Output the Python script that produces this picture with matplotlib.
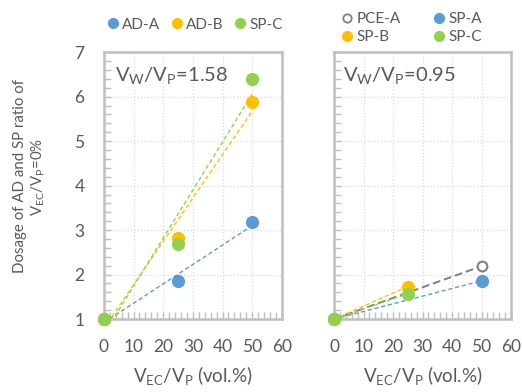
import matplotlib.pyplot as plt
from matplotlib.lines import Line2D
from matplotlib.ticker import MultipleLocator
import numpy as np

plt.rcParams['font.family'] = ['Lato', 'DejaVu Sans']
plt.rcParams['mathtext.default'] = 'regular'

TXT = '#595959'
EDGE = '#BFBFBF'
BLUE = '#5B9BD5'
ORANGE = '#FFC000'
GREEN = '#92D050'
GREY = '#7F7F7F'

# Vw/Vp = 1.58
ec_left = [0, 25, 50]
ad_a = [1.0, 1.85, 3.18]
ad_b = [1.0, 2.82, 5.88]
sp_c_left = [1.0, 2.68, 6.40]

# Vw/Vp = 0.95
ec_pce_a = [0, 50]
pce_a = [1.0, 2.19]
ec_sp_a = [0, 50]
sp_a = [1.0, 1.86]
ec_sp_b = [0, 25]
sp_b = [1.0, 1.73]
ec_sp_c = [0, 25]
sp_c_right = [1.0, 1.57]


def trend(ax, xs, ys, color, lw=1.0, dashes=(3, 2)):
    k, b = np.polyfit(xs, ys, 1)
    xx = np.array([min(xs), max(xs)])
    ax.plot(xx, k * xx + b, color=color, lw=lw, dashes=dashes, zorder=2)


def dots(ax, xs, ys, color, hollow=False):
    if hollow:
        ax.plot(xs, ys, 'o', ms=7, mfc='white', mec=color, mew=1.5,
                ls='none', zorder=3, clip_on=False)
    else:
        ax.plot(xs, ys, 'o', ms=8.5, color=color, ls='none', zorder=3,
                clip_on=False)


def style(ax, show_y):
    ax.set_xlim(0, 60)
    ax.set_ylim(1, 7)
    ax.xaxis.set_major_locator(MultipleLocator(10))
    ax.xaxis.set_minor_locator(MultipleLocator(2))
    ax.yaxis.set_major_locator(MultipleLocator(1))
    ax.yaxis.set_minor_locator(MultipleLocator(0.2))
    ax.grid(True, which='major', color='#D9D9D9', ls=':', lw=0.9)
    for s in ax.spines.values():
        s.set_color(EDGE)
        s.set_linewidth(1.8)
    ax.tick_params(which='both', direction='in', color=EDGE, width=1.0,
                   length=5, labelsize=12.5, labelcolor=TXT, pad=14)
    if not show_y:
        ax.tick_params(axis='y', labelleft=False)
    ax.set_xlabel('$V_{EC}/V_{P}$ (vol.%)', fontsize=13.5, color=TXT,
                  labelpad=7)


fig = plt.figure(figsize=(5.22, 3.92), dpi=100)
ax1 = fig.add_axes([0.199, 0.186, 0.341, 0.681])
ax2 = fig.add_axes([0.640, 0.186, 0.339, 0.681])

style(ax1, True)
style(ax2, False)

trend(ax1, ec_left, ad_a, BLUE)
trend(ax1, ec_left, ad_b, ORANGE)
trend(ax1, ec_left, sp_c_left, GREEN)
dots(ax1, ec_left, ad_a, BLUE)
dots(ax1, ec_left, ad_b, ORANGE)
dots(ax1, ec_left, sp_c_left, GREEN)

trend(ax2, ec_pce_a, pce_a, GREY, lw=1.4, dashes=(4, 2))
trend(ax2, ec_sp_a, sp_a, BLUE)
trend(ax2, ec_sp_b, sp_b, ORANGE)
trend(ax2, ec_sp_c, sp_c_right, GREEN)
dots(ax2, ec_pce_a, pce_a, GREY, hollow=True)
dots(ax2, ec_sp_a, sp_a, BLUE)
dots(ax2, ec_sp_b, sp_b, ORANGE)
dots(ax2, ec_sp_c, sp_c_right, GREEN)

ax1.text(0.065, 0.95, '$V_{W}/V_{P}$=1.58', transform=ax1.transAxes,
         ha='left', va='top', fontsize=14.5, color=TXT)
ax2.text(0.05, 0.95, '$V_{W}/V_{P}$=0.95', transform=ax2.transAxes,
         ha='left', va='top', fontsize=14.5, color=TXT)

fig.text(0.058, 0.55, 'Dosage of AD and SP ratio of\n$V_{EC}/V_{P}$=0%',
         rotation=90, ha='center', va='center', ma='center',
         fontsize=10.8, color=TXT, linespacing=1.2)


def handle(color, hollow=False):
    if hollow:
        return Line2D([], [], marker='o', ls='none', ms=6, mfc='white',
                      mec=color, mew=1.3)
    return Line2D([], [], marker='o', ls='none', ms=7, color=color)


leg1 = fig.legend([handle(BLUE), handle(ORANGE), handle(GREEN)],
                  ['AD-A', 'AD-B', 'SP-C'], loc='center',
                  bbox_to_anchor=(0.375, 0.937), ncol=3, frameon=False,
                  fontsize=11, handlelength=0.6, handletextpad=0.3,
                  columnspacing=0.8, labelcolor=TXT)

leg2 = fig.legend([handle(GREY, True), handle(ORANGE), handle(BLUE), handle(GREEN)],
                  ['PCE-A', 'SP-B', 'SP-A', 'SP-C'], loc='center',
                  bbox_to_anchor=(0.79, 0.928), ncol=2, frameon=False,
                  fontsize=11, handlelength=0.6, handletextpad=0.3,
                  columnspacing=2.2, labelspacing=0.25, labelcolor=TXT)

fig.savefig('out.png', dpi=100)
